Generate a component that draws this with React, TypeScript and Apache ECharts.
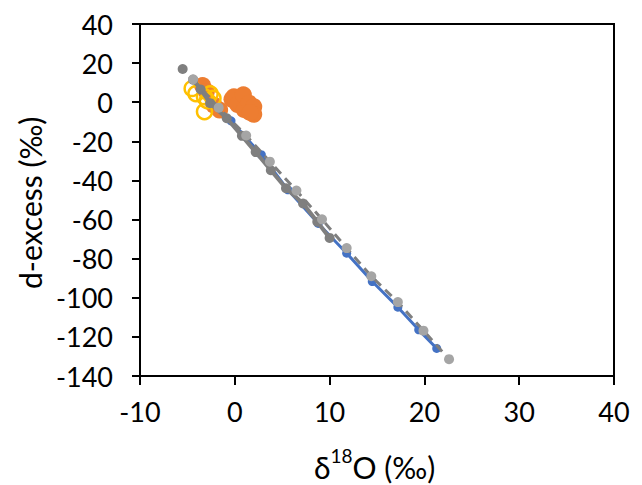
import React, { useEffect, useRef } from "react";
import * as echarts from "echarts";

// Axis ranges and ticks
const xMin = -10;
const xMax = 40;
const xStep = 10;
const yMin = -140;
const yMax = 40;
const yStep = 20;

// Measured samples (δ18O, d-excess)
const orangeSamples: [number, number][] = [
  [-3.4, 8.5], [-3.0, 5.5], [-2.2, -1.5], [-1.6, -4.0], [-0.3, 1.5],
  [-0.1, 2.8], [0.3, -1.2], [0.9, 3.8], [1.0, -3.8], [1.5, -0.5],
  [2.0, -2.3], [2.0, -6.2], [1.6, -5.2],
];
const yellowSamples: [number, number][] = [
  [-4.5, 7.0], [-4.1, 4.4], [-3.2, 2.8], [-2.6, 4.3], [-2.3, 2.0],
  [-2.9, 0.8], [-3.2, -4.8],
];

// Model curves
const blueModel: [number, number][] = [
  [-0.4, -9.5], [2.8, -26.8], [5.6, -44.8], [8.8, -62.0], [11.8, -77.2],
  [14.5, -91.7], [17.2, -104.8], [19.4, -116.4], [21.3, -125.9],
];
const darkModel: [number, number][] = [
  [-4.4, 11.5], [-3.6, 6.5], [-2.6, -0.5], [-0.85, -8.2], [0.75, -17.2],
  [2.2, -25.5], [3.8, -34.8], [5.4, -44.0], [7.2, -51.8], [8.7, -61.1],
  [10.0, -69.4],
];
const darkStart: [number, number][] = [[-5.5, 17.0]];
const lightModel: [number, number][] = [
  [-4.4, 11.7], [-1.7, -2.8], [1.2, -17.0], [3.7, -30.4], [6.5, -45.2],
  [9.2, -59.9], [11.8, -74.6], [14.4, -89.0], [17.2, -102.2], [19.9, -116.8],
  [22.6, -131.4],
];

const FONT = "Lato, 'Open Sans', sans-serif";

export default function App() {
  const ref = useRef<HTMLDivElement>(null);

  useEffect(() => {
    if (!ref.current) return;
    const chart = echarts.init(ref.current, undefined, { renderer: "svg" });
    chart.setOption({
      animation: false,
      backgroundColor: "#ffffff",
      grid: {
        left: 140,
        right: 28,
        top: 24,
        bottom: 109,
        show: true,
        borderColor: "#000",
        borderWidth: 2,
        backgroundColor: "transparent",
      },
      xAxis: {
        type: "value",
        min: xMin,
        max: xMax,
        interval: xStep,
        axisLine: { onZero: false, lineStyle: { color: "#000", width: 2 } },
        axisTick: { show: true, length: 9, inside: false, lineStyle: { color: "#000", width: 2 } },
        axisLabel: { color: "#000", fontSize: 27, fontFamily: FONT, margin: 22 },
        splitLine: { show: false },
      },
      yAxis: {
        type: "value",
        min: yMin,
        max: yMax,
        interval: yStep,
        axisLine: { onZero: false, lineStyle: { color: "#000", width: 2 } },
        axisTick: { show: true, length: 8, inside: false, lineStyle: { color: "#000", width: 2 } },
        axisLabel: { color: "#000", fontSize: 27, fontFamily: FONT, margin: 27 },
        splitLine: { show: false },
      },
      graphic: [
        {
          type: "text",
          left: 314,
          top: 446,
          style: {
            text: "{a|δ}{s|18}{a|O (‰)}",
            fill: "#000",
            rich: {
              a: { fontSize: 30, fontFamily: FONT, fill: "#000", verticalAlign: "bottom", lineHeight: 36 },
              s: { fontSize: 19, fontFamily: FONT, fill: "#000", verticalAlign: "top", lineHeight: 36 },
            },
          },
        },
        {
          type: "text",
          x: 15,
          y: 289,
          rotation: Math.PI / 2,
          style: {
            text: "d-excess (‰)",
            fill: "#000",
            fontSize: 30,
            fontFamily: FONT,
            textAlign: "left",
            textVerticalAlign: "top",
          },
        },
      ],
      series: [
        {
          type: "scatter",
          data: orangeSamples,
          symbol: "circle",
          symbolSize: 17,
          itemStyle: { color: "#ED7D31", opacity: 1 },
          z: 2,
        },
        {
          type: "scatter",
          data: yellowSamples,
          symbol: "circle",
          symbolSize: 15,
          itemStyle: { color: "rgba(0,0,0,0)", borderColor: "#FFC000", borderWidth: 2.5, opacity: 1 },
          z: 3,
        },
        {
          type: "line",
          data: blueModel,
          symbol: "circle",
          symbolSize: 9,
          showSymbol: true,
          lineStyle: { color: "#4472C4", width: 3 },
          itemStyle: { color: "#4472C4", borderWidth: 0 },
          z: 4,
        },
        {
          type: "line",
          data: darkModel,
          symbol: "circle",
          symbolSize: 10,
          showSymbol: true,
          lineStyle: { color: "#7F7F7F", width: 4 },
          itemStyle: { color: "#7F7F7F", borderWidth: 0 },
          z: 5,
        },
        {
          type: "scatter",
          data: darkStart,
          symbol: "circle",
          symbolSize: 10,
          itemStyle: { color: "#7F7F7F", opacity: 1 },
          z: 5,
        },
        {
          type: "line",
          data: lightModel,
          symbol: "circle",
          symbolSize: 10,
          showSymbol: true,
          lineStyle: { color: "#7F7F7F", width: 3, type: [9, 6] },
          itemStyle: { color: "#A5A5A5", borderWidth: 0 },
          z: 6,
        },
      ],
    });
    return () => chart.dispose();
  }, []);

  return <div ref={ref} style={{ width: 642, height: 485, position: "absolute", left: 0, top: 0 }} />;
}
